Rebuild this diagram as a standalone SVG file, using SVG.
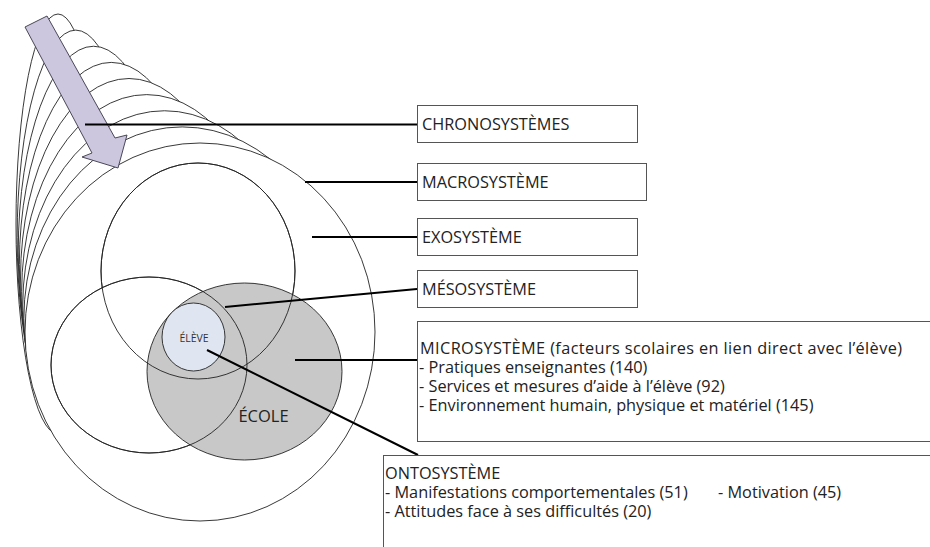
<svg xmlns="http://www.w3.org/2000/svg" width="930" height="547" viewBox="0 0 930 547">
<style>
.ring{fill:#fff;stroke:#222;stroke-width:0.9}
.ol{fill:none;stroke:#222;stroke-width:0.9}
.box{fill:#fff;stroke:#555;stroke-width:1}
.t{font-family:"Open Sans","Liberation Sans",Arial,sans-serif;font-size:16.3px;fill:#222}
.c{stroke:#000;stroke-width:2;fill:none}
</style>
<rect width="930" height="547" fill="#fff"/>
<g id="chrono-stack">
<ellipse class="ring" cx="58" cy="224" rx="42" ry="210"/>
<ellipse class="ring" cx="75.75" cy="237.5" rx="58.6" ry="207.4"/>
<ellipse class="ring" cx="93.5" cy="251" rx="75.25" ry="204.75"/>
<ellipse class="ring" cx="111.25" cy="264.5" rx="91.9" ry="202.1"/>
<ellipse class="ring" cx="129" cy="278" rx="108.5" ry="199.5"/>
<ellipse class="ring" cx="146.75" cy="291.5" rx="125.1" ry="196.9"/>
<ellipse class="ring" cx="164.5" cy="305" rx="141.75" ry="194.25"/>
<ellipse class="ring" cx="182.25" cy="318.5" rx="158.4" ry="191.6"/>
</g>
<g id="macro">
<ellipse class="ring" cx="200" cy="332" rx="175" ry="189"/>
</g>
<g id="exo">
<ellipse class="ring" cx="198" cy="271" rx="97" ry="108"/>
</g>
<g id="meso-left">
<ellipse class="ring" cx="149" cy="365" rx="98" ry="88"/>
</g>
<g id="ecole">
<ellipse cx="244.5" cy="371.5" rx="97.5" ry="88.5" fill="#c8c8c8" stroke="#222" stroke-width="0.9"/>
<ellipse class="ol" cx="198" cy="271" rx="97" ry="108"/>
<ellipse class="ol" cx="149" cy="365" rx="98" ry="88"/>
<text x="263.5" y="422" text-anchor="middle" font-family="Open Sans, Liberation Sans, Arial, sans-serif" font-size="16.5" fill="#222">ÉCOLE</text>
</g>
<g id="eleve">
<ellipse cx="193.5" cy="337" rx="31.5" ry="34" fill="#dfe6f1" stroke="#222" stroke-width="0.9"/>
<text x="194" y="342" text-anchor="middle" font-family="Open Sans, Liberation Sans, Arial, sans-serif" font-size="10.5" fill="#333">ÉLÈVE</text>
</g>
<g id="arrow">
<polygon points="25,27 47,16 115,138 127,135 118,168 82,157 92,153" fill="#cdc6df" stroke="#4a4757" stroke-width="1"/>
</g>
<g id="connectors">
<line class="c" x1="85" y1="124.5" x2="417" y2="124.5"/>
<line class="c" x1="305" y1="182" x2="417" y2="182"/>
<line class="c" x1="312" y1="237" x2="417" y2="237"/>
<line class="c" x1="225" y1="307" x2="417" y2="289"/>
<line class="c" x1="295" y1="360" x2="417" y2="360"/>
<line class="c" x1="207" y1="350" x2="418" y2="455"/>
</g>
<g id="box-chrono">
<rect class="box" x="417.5" y="105.5" width="220" height="37"/>
<text class="t" x="422" y="130">CHRONOSYSTÈMES</text>
</g>
<g id="box-macro">
<rect class="box" x="417.5" y="163.5" width="229" height="37"/>
<text class="t" x="422" y="188">MACROSYSTÈME</text>
</g>
<g id="box-exo">
<rect class="box" x="417.5" y="218.5" width="220" height="37"/>
<text class="t" x="422" y="243">EXOSYSTÈME</text>
</g>
<g id="box-meso">
<rect class="box" x="417.5" y="270.5" width="220" height="37"/>
<text class="t" x="422" y="295">MÉSOSYSTÈME</text>
</g>
<g id="box-micro">
<rect class="box" x="417.5" y="321.5" width="520" height="120"/>
<text class="t" x="420" y="354" textLength="482" lengthAdjust="spacing">MICROSYSTÈME (facteurs scolaires en lien direct avec l’élève)</text>
<text class="t" x="419" y="373">- Pratiques enseignantes (140)</text>
<text class="t" x="419" y="392">- Services et mesures d’aide à l’élève (92)</text>
<text class="t" x="419" y="411">- Environnement humain, physique et matériel (145)</text>
</g>
<g id="box-onto">
<rect class="box" x="383.5" y="455.5" width="560" height="100"/>
<text class="t" x="385" y="479">ONTOSYSTÈME</text>
<text class="t" x="385" y="498">- Manifestations comportementales (51)</text>
<text class="t" x="718" y="498">- Motivation (45)</text>
<text class="t" x="385" y="517">- Attitudes face à ses difficultés (20)</text>
</g>
</svg>
